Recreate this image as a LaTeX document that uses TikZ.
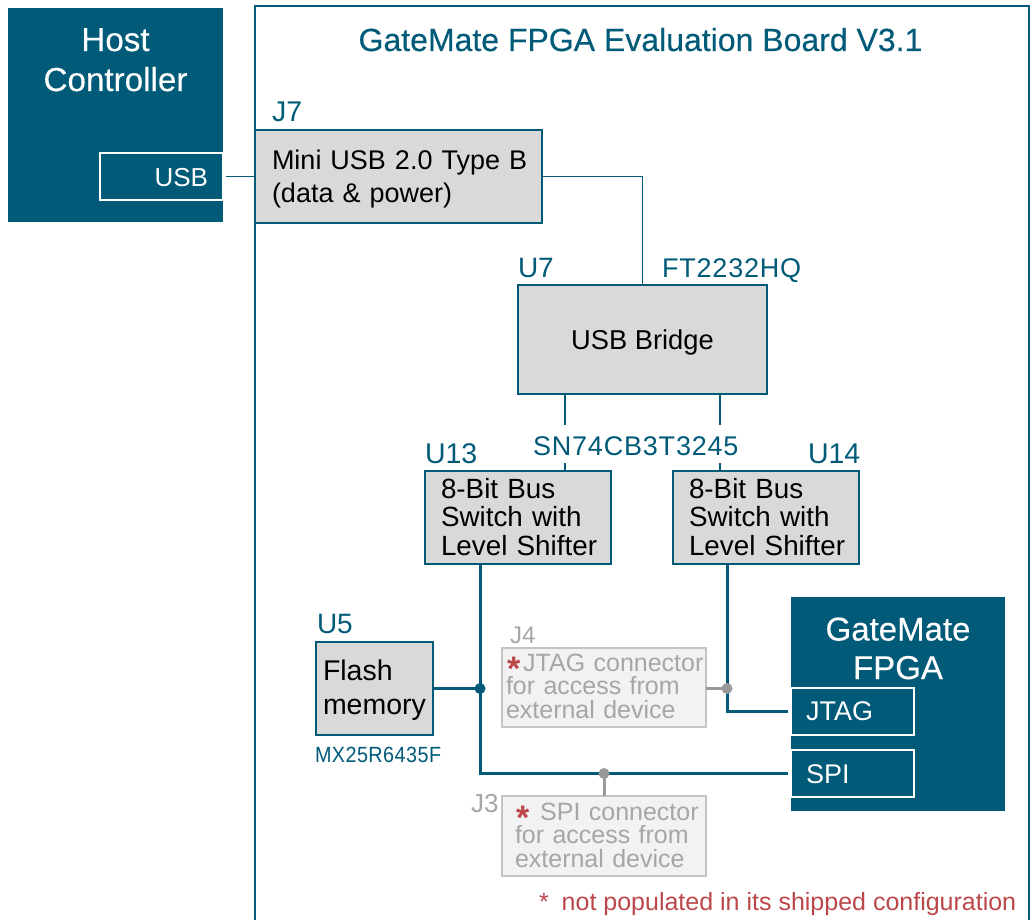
\documentclass[tikz,border=0pt]{standalone}
\usepackage{fontspec}
\setmainfont{Liberation Sans}
\newfontfamily\medfont[FakeBold=0.3]{Liberation Sans}
\newfontfamily\spacedfont[LetterSpace=3]{Liberation Sans}
\newfontfamily\narrowfont[FakeStretch=0.9,LetterSpace=2]{Liberation Sans}
\definecolor{teal}{HTML}{005A78}
\definecolor{boxfill}{HTML}{D9D9D9}
\definecolor{ghostfill}{HTML}{F2F2F2}
\definecolor{ghostline}{HTML}{C4C4C4}
\definecolor{ghosttext}{HTML}{A6A6A6}
\definecolor{dotgray}{HTML}{999999}
\definecolor{noteRed}{HTML}{BC474B}
\newcommand{\fs}[2]{\fontsize{#1}{#2}\selectfont}
\newcommand{\redstar}{\raisebox{-9pt}[0pt][0pt]{\textcolor{noteRed}{\fontsize{34}{23}\selectfont\textbf{*}}}}
\tikzset{
  x=1pt,y=-1pt,
  every node/.style={inner sep=0pt,outer sep=0pt},
  firstbase/.style={text height=20pt,text depth=20pt-2*#1pt},
  frameline/.style={draw=teal,line width=1.5pt},
  thinwire/.style={draw=teal,line width=1.3pt},
  thickwire/.style={draw=teal,line width=3pt},
  ghostwire/.style={draw=dotgray,line width=3pt},
  solidblock/.style={fill=teal,draw=none},
  port/.style={draw=white,line width=1.4pt,text=white,minimum width=123pt,minimum height=47pt,text width=93pt},
  grayblock/.style={fill=boxfill,draw=teal,line width=1.5pt,text=black,align=left},
  ghostblock/.style={fill=ghostfill,draw=ghostline,line width=1.8pt,text=ghosttext,align=left,font=\fs{25}{23.3}},
  ref/.style={anchor=base west,text=teal,font=\fs{28.5}{30}},
  ghostref/.style={anchor=base west,text=ghosttext,font=\fs{24}{26}},
  joindot/.style={circle,minimum size=11pt},
}
\begin{document}
\begin{tikzpicture}
\useasboundingbox (0,0) rectangle (1033,920);
\draw[frameline] (255,920) |- (1029,6) -- (1029,920);
\node[anchor=base,text=teal,font=\medfont\fs{32}{34}] (title) at (640.5,51) {GateMate FPGA Evaluation Board V3.1};

% host
\node[solidblock,minimum width=215pt,minimum height=214pt] (host) at (115.5,115) {};
\node[anchor=base,text=white,align=center,font=\medfont\fs{33.2}{40}] (hosttext) at (115.5,91) {Host\\Controller};
\node[port,align=right,font=\fs{26}{30},firstbase=9.5] (usb) at (161.5,176.5) {USB};

% J7
\node[grayblock,minimum width=287pt,minimum height=93pt,text width=253pt,font=\fs{27}{33},firstbase=-6.5] (j7) at (398.5,176.5) {\mbox{Mini USB 2.0 Type B}\\\mbox{(data \& power)}};
\node[ref] (j7ref) at (272,122) {J7};

% bridge
\node[grayblock,minimum width=249pt,minimum height=109pt,align=center,font=\fs{27.3}{33},firstbase=9.5] (bridge) at (642.5,339.5) {USB Bridge};
\node[ref,font=\fs{28}{30}] (u7ref) at (518,277) {U7};
\node[ref,font=\spacedfont\fs{27}{30}] (ftref) at (662,277) {FT2232HQ};

% bus switches
\node[grayblock,minimum width=186pt,minimum height=93pt,text width=154pt,font=\fs{27.8}{28.7},firstbase=-19.5] (u13) at (518,517.5) {\mbox{8-Bit Bus}\\\mbox{Switch with}\\\mbox{Level Shifter}};
\node[grayblock,minimum width=186pt,minimum height=93pt,text width=154pt,font=\fs{27.8}{28.7},firstbase=-19.5] (u14) at (766,517.5) {\mbox{8-Bit Bus}\\\mbox{Switch with}\\\mbox{Level Shifter}};

% flash
\node[grayblock,minimum width=117pt,minimum height=93pt,text width=103pt,font=\fs{28.5}{33.5},firstbase=-8] (flash) at (374.5,688.5) {\mbox{Flash}\\\mbox{memory}};
\node[ref,font=\fs{28}{30}] (u5ref) at (317,633) {U5};
\node[anchor=base west,text=teal,font=\narrowfont\fs{22}{24}] (mxref) at (315,762) {MX25R6435F};

% FPGA
\node[solidblock,minimum width=214pt,minimum height=214pt] (fpga) at (898,704) {};
\node[anchor=base,text=white,align=center,font=\medfont\fs{33}{38.5}] (fpgatext) at (898,679) {GateMate\\FPGA};
\node[port,align=left,font=\fs{27}{30},firstbase=9] (jtag) at (852.5,711.5) {JTAG};
\node[port,align=left,font=\fs{27}{30},firstbase=9.5] (spi) at (852.5,773.5) {SPI};

% ghost connectors
\node[ghostblock,minimum width=204pt,minimum height=79pt,text width=196pt,firstbase=-16] (j4) at (604,687.5) {\mbox{\hspace*{1pt}\redstar\hspace{3pt}JTAG connector}\\\mbox{for access from}\\\mbox{external device}};
\node[ghostref] (j4ref) at (510,643) {J4};
\node[ghostblock,minimum width=204pt,minimum height=80pt,text width=178pt,firstbase=-15.6] (j3) at (604,836) {\mbox{\hspace*{1pt}\redstar\hspace{11pt}SPI connector}\\\mbox{for access from}\\\mbox{external device}};
\node[ghostref,font=\fs{26}{28}] (j3ref) at (471,812) {J3};

% junctions and wires
\coordinate (flashpt) at (480,688.5);
\coordinate (jtagpt) at (727,688.5);
\coordinate (spipt) at (604,773.5);
\draw[thinwire,shorten <=3pt] (usb.east) -- (j7.west);
\draw[thinwire] (j7.east) -| (bridge.north);
\draw[thinwire] ([xshift=-77.5pt]bridge.south) -- ([xshift=47pt]u13.north);
\draw[thinwire] ([xshift=77.5pt]bridge.south) -- ([xshift=-46pt]u14.north);
\draw[thickwire,shorten >=3pt] ([xshift=-38pt]u13.south) |- (spi.west);
\draw[thickwire,shorten >=3pt] ([xshift=-39pt]u14.south) |- (jtag.west);
\draw[thickwire] (flash.east) -- (flashpt);
\draw[ghostwire] (j4.east |- jtagpt) -- (jtagpt);
\draw[ghostwire] (j3.north) -- (spipt);
\node[joindot,fill=teal] (flashjoin) at (flashpt) {};
\node[joindot,fill=dotgray] (jtagjoin) at (jtagpt) {};
\node[joindot,fill=dotgray] (spijoin) at (spipt) {};

% labels drawn over the wires
\node[anchor=base west,text=teal,fill=white,text height=30pt,text depth=8pt,font=\spacedfont\fs{27}{30}] (snref) at (533,455) {SN74CB3T3245};
\node[ref] (u13ref) at (425,463) {U13};
\node[ref] (u14ref) at (808,463) {U14};
\node[anchor=base west,text=noteRed,font=\fs{25}{27}] (note) at (539,910) {*\hspace{13pt}not populated in its shipped configuration};
\end{tikzpicture}
\end{document}
